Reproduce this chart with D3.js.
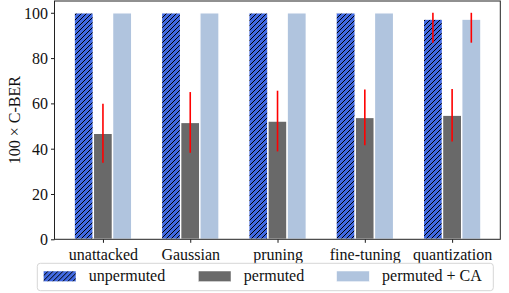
<!DOCTYPE html>
<html>
<head>
<meta charset="utf-8">
<script src="https://cdn.jsdelivr.net/npm/d3@7"></script>
<style>
  body { margin: 0; background: #fff; }
  text { font-family: "Liberation Serif", "Times New Roman", serif; fill: #111; }
</style>
</head>
<body>
<div id="chart"></div>
<script>
var width = 509,
    height = 293;

// data
var categories = ["unattacked", "Gaussian", "pruning", "fine-tuning", "quantization"];
var unpermuted = [100, 100, 100, 100, 97.2];
var unpermutedLo = [0, 0, 0, 0, 10.4];
var unpermutedHi = [0, 0, 0, 0, 2.8];
var permuted = [46.8, 51.6, 52.2, 53.8, 54.8];
var permutedLo = [13.0, 13.4, 13.4, 12.3, 11.6];
var permutedHi = [13.0, 13.4, 13.4, 12.3, 11.6];
var permutedCA = [100, 100, 100, 100, 97.2];
var permutedCALo = [0, 0, 0, 0, 10.4];
var permutedCAHi = [0, 0, 0, 0, 2.8];
var seriesNames = ["unpermuted", "permuted", "permuted + CA"];
var yTicks = [0, 20, 40, 60, 80, 100];

var series = [
  { name: seriesNames[0], values: unpermuted, lo: unpermutedLo, hi: unpermutedHi, fill: "url(#hatch)" },
  { name: seriesNames[1], values: permuted, lo: permutedLo, hi: permutedHi, fill: "#696969" },
  { name: seriesNames[2], values: permutedCA, lo: permutedCALo, hi: permutedCAHi, fill: "#b0c4de" }
];

var pLeft = 54.5, pRight = 500.3, pTop = 1, pBottom = 239.3;
var barW = 0.22;

var x = d3.scaleLinear()
    .domain([-0.555, 4.552])
    .range([pLeft, pRight]);

var y = d3.scaleLinear()
    .domain([0, 105.2])
    .range([pBottom, pTop]);

var svg = d3.select("#chart").append("svg")
    .attr("width", width)
    .attr("height", height);

var defs = svg.append("defs");
var pat = defs.append("pattern")
    .attr("id", "hatch")
    .attr("patternUnits", "userSpaceOnUse")
    .attr("width", 5)
    .attr("height", 5);
pat.append("rect").attr("width", 5).attr("height", 5).attr("fill", "#4169e1");
pat.append("path")
    .attr("d", "M0,5 L5,0 M-1,1 L1,-1 M4,6 L6,4")
    .attr("stroke", "#000")
    .attr("stroke-width", 1);

// bars
series.forEach(function(s, k) {
  var off = (k - 1) * barW;
  svg.append("g").selectAll("rect")
      .data(s.values)
    .enter().append("rect")
      .attr("x", function(d, i) { return x(i + off - barW / 2); })
      .attr("y", function(d) { return y(d); })
      .attr("width", x(barW) - x(0))
      .attr("height", function(d) { return y(0) - y(d); })
      .attr("fill", s.fill)
      .attr("stroke", "#fff")
      .attr("stroke-width", 1.4);
});

// error bars
series.forEach(function(s, k) {
  var off = (k - 1) * barW;
  svg.append("g").selectAll("line")
      .data(s.values.map(function(v, i) { return { i: i, v: v, lo: s.lo[i], hi: s.hi[i] }; })
        .filter(function(d) { return d.lo > 0 || d.hi > 0; }))
    .enter().append("line")
      .attr("x1", function(d) { return x(d.i + off); })
      .attr("x2", function(d) { return x(d.i + off); })
      .attr("y1", function(d) { return y(d.v - d.lo); })
      .attr("y2", function(d) { return y(d.v + d.hi); })
      .attr("stroke", "#ff0000")
      .attr("stroke-width", 1.6);
});

// axes
var xAxis = d3.axisBottom(x)
    .tickValues(d3.range(categories.length))
    .tickFormat(function(d) { return categories[d]; })
    .tickSize(3.5)
    .tickPadding(4);

var yAxis = d3.axisLeft(y)
    .tickValues(yTicks)
    .tickSize(3.5)
    .tickPadding(3);

var gx = svg.append("g")
    .attr("transform", "translate(0," + pBottom + ")")
    .call(xAxis);
gx.select(".domain").remove();
gx.selectAll("text").attr("font-size", 16).attr("font-family", "Liberation Serif").attr("fill", "#111").attr("dy", "0.85em");
gx.selectAll("line").attr("stroke", "#000").attr("stroke-width", 0.9);

var gy = svg.append("g")
    .attr("transform", "translate(" + pLeft + ",0)")
    .call(yAxis);
gy.select(".domain").remove();
gy.selectAll("text").attr("font-size", 16).attr("font-family", "Liberation Serif").attr("fill", "#111").attr("dy", "0.34em");
gy.selectAll("line").attr("stroke", "#000").attr("stroke-width", 0.9);

// frame
svg.append("rect")
    .attr("x", pLeft)
    .attr("y", pTop)
    .attr("width", pRight - pLeft)
    .attr("height", pBottom - pTop)
    .attr("fill", "none")
    .attr("stroke", "#222")
    .attr("stroke-width", 1);

// y label
svg.append("text")
    .attr("transform", "translate(19.5," + ((pTop + pBottom) / 2) + ") rotate(-90)")
    .attr("text-anchor", "middle")
    .attr("font-size", 16)
    .text("100 \u00d7 C-BER");

// legend
var legend = svg.append("g");
legend.append("rect")
    .attr("x", 37.3)
    .attr("y", 263.3)
    .attr("width", 456)
    .attr("height", 27.4)
    .attr("rx", 3)
    .attr("fill", "#fff")
    .attr("fill-opacity", 0.8)
    .attr("stroke", "#d6d6d6")
    .attr("stroke-width", 1);

var legendX = [43.3, 198.3, 336.6];
var item = legend.selectAll(".item")
    .data(series)
  .enter().append("g")
    .attr("class", "item")
    .attr("transform", function(d, i) { return "translate(" + legendX[i] + ",271)"; });

item.append("rect")
    .attr("width", 32.7)
    .attr("height", 10.7)
    .attr("fill", function(d) { return d.fill; })
    .attr("stroke", "#fff")
    .attr("stroke-width", 0.5);

item.append("text")
    .attr("x", 45.5)
    .attr("y", 10)
    .attr("font-size", 16)
    .text(function(d) { return d.name; });
</script>
</body>
</html>
